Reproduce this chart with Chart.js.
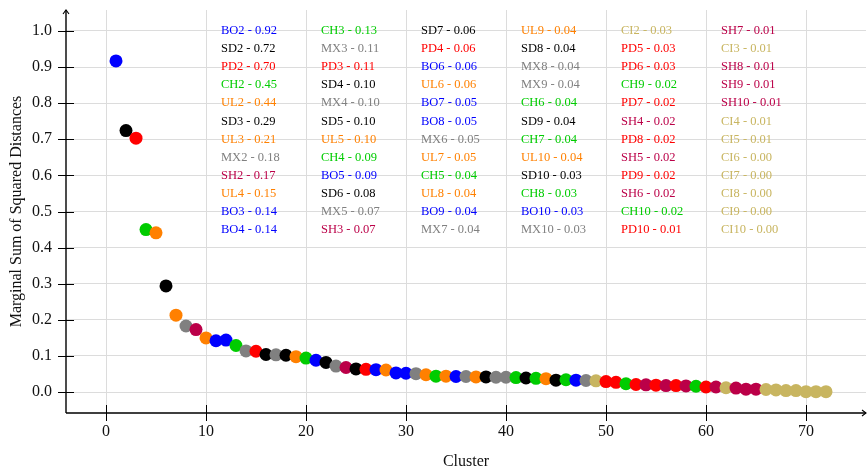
<!DOCTYPE html>
<html lang="en">
  <head>
    <meta charset="UTF-8" />
    <title>Marginal Sum of Squared Distances by Cluster</title>
    <script src="https://cdn.jsdelivr.net/npm/chart.js"></script>
    <style>
      html, body { margin: 0; padding: 0; background: #fff; }
      #wrap { width: 868px; height: 467px; }
    </style>
  </head>
  <body>
    <div id="wrap"><canvas id="sseChart"></canvas></div>
    <script>
      // clusters in decreasing order of marginal SSD
      const clusterNames = [
        'BO2', 'SD2', 'PD2', 'CH2', 'UL2', 'SD3', 'UL3', 'MX2', 'SH2', 'UL4', 'BO3', 'BO4',
        'CH3', 'MX3', 'PD3', 'SD4', 'MX4', 'SD5', 'UL5', 'CH4', 'BO5', 'SD6', 'MX5', 'SH3',
        'SD7', 'PD4', 'BO6', 'UL6', 'BO7', 'BO8', 'MX6', 'UL7', 'CH5', 'UL8', 'BO9', 'MX7',
        'UL9', 'SD8', 'MX8', 'MX9', 'CH6', 'SD9', 'CH7', 'UL10', 'SD10', 'CH8', 'BO10', 'MX10',
        'CI2', 'PD5', 'PD6', 'CH9', 'PD7', 'SH4', 'PD8', 'SH5', 'PD9', 'SH6', 'CH10', 'PD10',
        'SH7', 'CI3', 'SH8', 'SH9', 'SH10', 'CI4', 'CI5', 'CI6', 'CI7', 'CI8', 'CI9', 'CI10'
      ];
      const marginalSSD = [
        0.917, 0.724, 0.703, 0.450, 0.441, 0.294, 0.213, 0.183, 0.173, 0.150, 0.142, 0.144,
        0.129, 0.114, 0.113, 0.104, 0.103, 0.102, 0.098, 0.094, 0.088, 0.082, 0.072, 0.068,
        0.064, 0.063, 0.062, 0.061, 0.053, 0.052, 0.051, 0.048, 0.044, 0.044, 0.043, 0.043,
        0.042, 0.042, 0.041, 0.041, 0.040, 0.039, 0.038, 0.037, 0.033, 0.034, 0.033, 0.032,
        0.031, 0.029, 0.027, 0.023, 0.021, 0.020, 0.019, 0.018, 0.018, 0.017, 0.016, 0.014,
        0.014, 0.012, 0.011, 0.008, 0.008, 0.007, 0.006, 0.004, 0.004, 0.001, 0.001, 0.001
      ];
      const xTickValues = [0, 10, 20, 30, 40, 50, 60, 70];
      const yTickValues = [0, 0.1, 0.2, 0.3, 0.4, 0.5, 0.6, 0.7, 0.8, 0.9, 1.0];

      const familyColors = {
        BO: '#0000ff',
        SD: '#000000',
        PD: '#ff0000',
        CH: '#00cc00',
        UL: '#ff8000',
        MX: '#808080',
        SH: '#bb0048',
        CI: '#c8b560'
      };
      const colorOf = (name) => familyColors[name.slice(0, 2)];

      const serif = '"Liberation Serif", "DejaVu Serif", serif';
      const points = marginalSSD.map((v, i) => ({ x: i + 1, y: v }));

      const setTicks = (list) => (scale) => {
        scale.ticks = list.map((v) => ({ value: v }));
      };

      // axis lines with arrows, crossing tick marks, and the value list
      const decorations = {
        id: 'decorations',
        afterDatasetsDraw: (chart) => {
          const { ctx, chartArea: a, scales } = chart;
          ctx.save();
          ctx.strokeStyle = '#000';
          ctx.lineWidth = 1.4;
          ctx.beginPath();
          ctx.moveTo(a.left, a.bottom);
          ctx.lineTo(a.left, a.top);
          ctx.moveTo(a.left, a.bottom);
          ctx.lineTo(a.right, a.bottom);
          ctx.stroke();
          ctx.lineWidth = 1.1;
          ctx.beginPath();
          ctx.moveTo(a.left - 3, a.top + 4);
          ctx.lineTo(a.left, a.top);
          ctx.lineTo(a.left + 3, a.top + 4);
          ctx.moveTo(a.right - 4, a.bottom - 3);
          ctx.lineTo(a.right, a.bottom);
          ctx.lineTo(a.right - 4, a.bottom + 3);
          ctx.stroke();
          ctx.lineWidth = 1;
          ctx.beginPath();
          xTickValues.forEach((v) => {
            const px = Math.round(scales.x.getPixelForValue(v)) + 0.5;
            ctx.moveTo(px, a.bottom - 8);
            ctx.lineTo(px, a.bottom + 8);
          });
          yTickValues.forEach((v) => {
            const py = Math.round(scales.y.getPixelForValue(v)) + 0.5;
            ctx.moveTo(a.left - 8, py);
            ctx.lineTo(a.left + 8, py);
          });
          ctx.stroke();

          ctx.font = '12.5px ' + serif;
          ctx.textAlign = 'left';
          ctx.textBaseline = 'middle';
          clusterNames.forEach((name, i) => {
            const col = Math.floor(i / 12);
            const row = i % 12;
            const px = scales.x.getPixelForValue(11.5 + col * 10);
            const py = scales.y.getPixelForValue(1.0 - row * 0.05);
            ctx.fillStyle = colorOf(name);
            ctx.fillText(name + ' - ' + marginalSSD[i].toFixed(2), px, py);
          });
          ctx.restore();
        }
      };

      const config = {
        type: 'scatter',
        data: {
          datasets: [
            {
              data: points,
              pointRadius: 6.5,
              pointHoverRadius: 6.5,
              borderWidth: 0,
              pointBackgroundColor: clusterNames.map(colorOf),
              pointBorderColor: clusterNames.map(colorOf)
            }
          ]
        },
        options: {
          responsive: true,
          maintainAspectRatio: false,
          animation: false,
          layout: { autoPadding: false, padding: { top: 10, right: 2, left: 0, bottom: 0 } },
          plugins: { legend: { display: false }, tooltip: { enabled: false } },
          scales: {
            x: {
              type: 'linear',
              min: -4,
              max: 76,
              afterBuildTicks: setTicks(xTickValues),
              afterFit: (s) => {
                s.height = 54;
                s.paddingLeft = 0;
                s.paddingRight = 0;
              },
              ticks: { padding: 9, color: '#111', font: { family: serif, size: 16 } },
              grid: { color: '#dcdcdc', drawTicks: false },
              border: { display: false },
              title: {
                display: true,
                text: 'Cluster',
                color: '#111',
                font: { family: serif, size: 16, lineHeight: 0.7 },
                padding: 0
              }
            },
            y: {
              type: 'linear',
              min: -0.058,
              max: 1.058,
              afterBuildTicks: setTicks(yTickValues),
              afterFit: (s) => {
                s.width = 66;
                s.paddingTop = 0;
                s.paddingBottom = 0;
              },
              ticks: {
                padding: 14,
                color: '#111',
                font: { family: serif, size: 16 },
                callback: (v) => v.toFixed(1)
              },
              grid: { color: '#dcdcdc', drawTicks: false },
              border: { display: false },
              title: {
                display: true,
                text: 'Marginal Sum of Squared Distances',
                color: '#111',
                font: { family: serif, size: 16, lineHeight: 1.2 },
                padding: { top: 7, bottom: 0 }
              }
            }
          }
        },
        plugins: [decorations]
      };

      const sseChart = new Chart(document.getElementById('sseChart'), config);
    </script>
  </body>
</html>
